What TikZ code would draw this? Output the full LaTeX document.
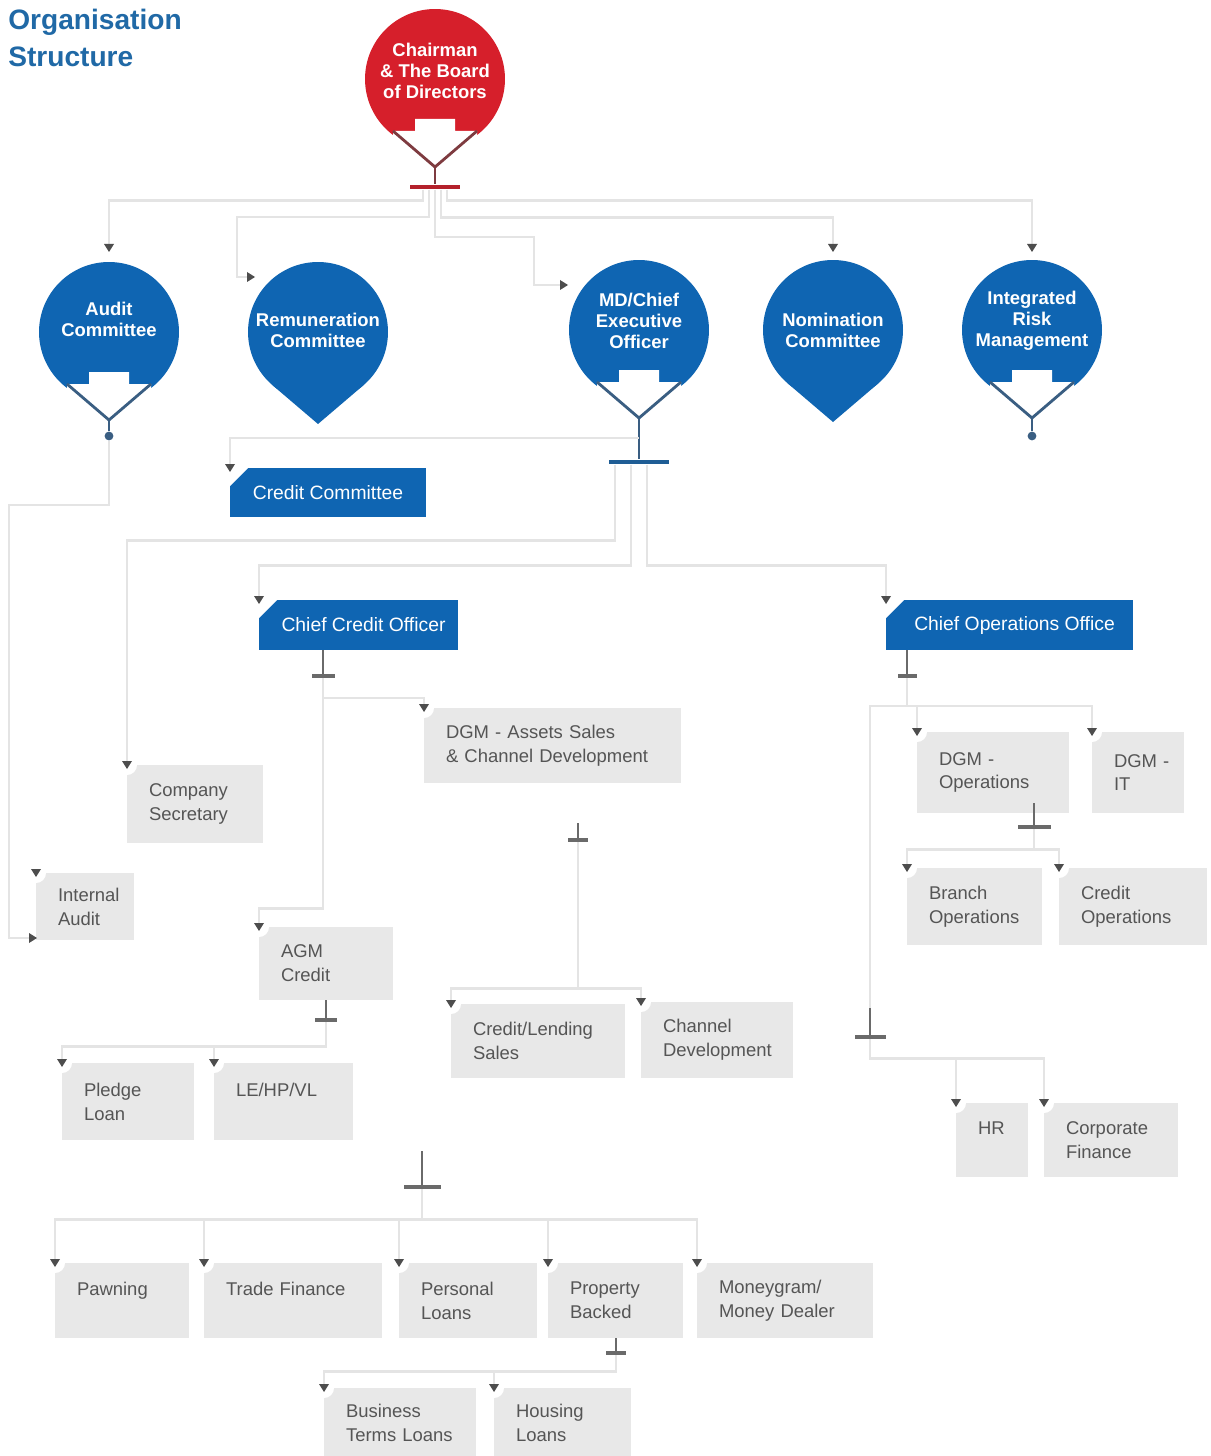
\documentclass[tikz,border=0pt]{standalone}
\usepackage{fontspec}
\setmainfont{Liberation Sans}
\usetikzlibrary{calc}

\definecolor{discblue}{HTML}{0F65B2}
\definecolor{discred}{HTML}{D61F2B}
\definecolor{veeblue}{HTML}{3A5E82}
\definecolor{veered}{HTML}{7E3B40}
\definecolor{barblue}{HTML}{1F5D95}
\definecolor{barred}{HTML}{B4212B}
\definecolor{boxgray}{HTML}{E8E8E8}
\definecolor{txtgray}{HTML}{555555}
\definecolor{linkgray}{HTML}{E4E4E4}
\definecolor{stubgray}{HTML}{6A6A6A}
\definecolor{mkgray}{HTML}{4D4D4D}
\definecolor{titleblue}{HTML}{2069A6}

\begin{document}
\begin{tikzpicture}[x=0.02cm,y=-0.02cm,
    disc/.style={circle,fill=discblue,minimum size=2.8cm,inner sep=0pt},
    disctext/.style={text=white,font=\fontsize{10.5}{12}\selectfont\bfseries,align=center,inner sep=0pt},
    tagbox/.style={rectangle,fill=discblue,text=white,font=\fontsize{11}{13}\selectfont,inner sep=0pt,outer sep=0pt},
    unitbox/.style={rectangle,fill=boxgray,text=txtgray,font=\fontsize{10.5}{13.6}\selectfont,align=left,inner xsep=0.44cm,inner ysep=0pt,outer sep=0pt,text width=#1},
    tbar/.style={rectangle,inner sep=0pt,minimum height=0.09cm},
    stub/.style={rectangle,fill=stubgray,inner sep=0pt,minimum height=0.08cm},
    stemline/.style={draw=stubgray,line width=0.8pt},
    veeline/.style={line width=1.6pt},
    link/.style={draw=linkgray,line width=1.3pt},
    pics/dmark/.style={code={\fill[mkgray] (-5,-4) -- (5,-4) -- (0,4) -- cycle;}},
    pics/rmark/.style={code={\fill[mkgray] (-4,-5) -- (-4,5) -- (4,0) -- cycle;}}]

\useasboundingbox (0,0) rectangle (1210,1456);
\fill[white] (0,0) rectangle (1210,1456);

\node[anchor=north west,inner sep=0pt,align=left,text=titleblue,font=\fontsize{16}{21}\selectfont\bfseries] (title) at (8,9) {Organisation\\Structure};

% board and committees
\node[disc,fill=discred] (board) at (435,79) {};
\node[disctext] (boardt) at (435,71) {Chairman\\\& The Board\\of Directors};
\node[disc] (audit) at (109,332) {};
\node[disctext] (auditt) at (109,319) {Audit\\Committee};
\node[disc] (rem) at (318,332) {};
\node[disctext] (remt) at (318,330) {Remuneration\\Committee};
\node[disc] (md) at (639,330) {};
\node[disctext] (mdt) at (639,321) {MD/Chief\\Executive\\Officer};
\node[disc] (nom) at (833,330) {};
\node[disctext] (nomt) at (833,330) {Nomination\\Committee};
\node[disc] (irm) at (1032,330) {};
\node[disctext] (irmt) at (1032,321) {Integrated\\Risk\\Management};

\foreach \n/\c in {board/veered, audit/veeblue, md/veeblue, irm/veeblue}{
  \fill[white] (\n.center) ++(-20,40) -- ++(40,0) -- ++(0,12) -- ++(22,0) -- ++(0,30) -- ++(-84,0) -- ++(0,-30) -- ++(22,0) -- cycle;
  \draw[veeline,\c] (\n.center) ++(-42,52) -- ++(42,36) -- ++(42,-36);
}
\foreach \n in {rem, nom}
  \fill[discblue] (\n.center) ++(-45.5,53.2) -- ++(45.5,38.8) -- ++(45.5,-38.8) -- cycle;

\node[tbar,fill=barred,minimum width=1cm] (rbar) at (435,187) {};
\draw[veeline,veered] (board.center) ++(0,88) -- (rbar);
\node[tbar,fill=barblue,minimum width=1.2cm] (mdbar) at (639,462) {};
\draw[veeline,veeblue] (md.center) ++(0,88) -- (mdbar);
\node[circle,fill=veeblue,minimum size=5pt,inner sep=0pt] (auditdot) at (109,436) {};
\draw[veeline,veeblue] (audit.center) ++(0,88) -- (auditdot);
\node[circle,fill=veeblue,minimum size=5pt,inner sep=0pt] (irmdot) at (1032,436) {};
\draw[veeline,veeblue] (irm.center) ++(0,88) -- (irmdot);

\coordinate (auditin) at (109,248);
\coordinate (remin) at (251,277);
\coordinate (mdin) at (564,285);
\coordinate (nomin) at (833,248);
\coordinate (irmin) at (1032,248);
\coordinate (iain) at (33,938);

% officers
\node[tagbox,minimum width=3.92cm,minimum height=0.98cm] (ccom) at (328,492.5) {Credit Committee};
\node[tagbox,minimum width=3.98cm,minimum height=1cm] (cco) at (358.5,625) {\hspace{0.2cm}Chief Credit Officer};
\node[tagbox,minimum width=4.94cm,minimum height=1cm] (coo) at (1009.5,625) {\hspace{0.2cm}Chief Operations Office};

% units
\node[unitbox=4.26cm,minimum height=1.5cm] (dgmA) at (552.5,745.5) {\mbox{DGM - Assets Sales}\\\& Channel Development};
\node[unitbox=1.84cm,minimum height=1.56cm] (cs) at (195,804) {Company\\Secretary};
\node[unitbox=1.08cm,minimum height=1.34cm] (ia) at (85,906.5) {Internal\\Audit};
\node[unitbox=1.8cm,minimum height=1.46cm] (agm) at (326,963.5) {AGM\\Credit};
\node[unitbox=2.16cm,minimum height=1.62cm] (dgmO) at (993,772.5) {\mbox{DGM -}\\Operations};
\node[unitbox=0.96cm,minimum height=1.62cm] (dgmIT) at (1138,772.5) {\mbox{DGM -}\\IT};
\node[unitbox=1.82cm,minimum height=1.54cm] (bo) at (974.5,906.5) {Branch\\Operations};
\node[unitbox=2.08cm,minimum height=1.54cm] (co) at (1133,906.5) {Credit\\Operations};
\node[unitbox=2.6cm,minimum height=1.48cm] (cls) at (538,1041) {Credit/Lending\\Sales};
\node[unitbox=2.16cm,minimum height=1.52cm] (chd) at (717,1040) {Channel\\Development};
\node[unitbox=1.76cm,minimum height=1.54cm] (pl) at (128,1101.5) {Pledge\\Loan};
\node[unitbox=1.9cm,minimum height=1.54cm] (le) at (283.5,1101.5) {LE/HP/VL\\\mbox{}};
\node[unitbox=0.56cm,minimum height=1.48cm] (hr) at (992,1140) {HR\\\mbox{}};
\node[unitbox=1.8cm,minimum height=1.48cm] (cf) at (1111,1140) {Corporate\\Finance};
\node[unitbox=1.8cm,minimum height=1.5cm] (paw) at (122,1300.5) {Pawning\\\mbox{}};
\node[unitbox=2.68cm,minimum height=1.5cm] (tf) at (293,1300.5) {Trade Finance\\\mbox{}};
\node[unitbox=1.88cm,minimum height=1.5cm] (perl) at (468,1300.5) {Personal\\Loans};
\node[unitbox=1.82cm,minimum height=1.5cm] (pb) at (615.5,1300.5) {Property\\Backed};
\node[unitbox=2.64cm,minimum height=1.5cm] (mg) at (785,1300.5) {Moneygram/\\Money Dealer};
\node[unitbox=2.16cm,minimum height=1.4cm] (btl) at (400,1423) {Business\\Terms Loans};
\node[unitbox=1.86cm,minimum height=1.4cm] (hl) at (562.5,1423) {Housing\\Loans};

\foreach \n in {ccom, cco, coo}
  \fill[white] (\n.north west) -- ++(18,0) -- ++(-18,18) -- cycle;
\foreach \n in {dgmA, cs, ia, agm, dgmO, dgmIT, bo, co, cls, chd, pl, le, hr, cf, paw, tf, perl, pb, mg, btl, hl}
  \fill[white] (\n.north west) circle (0.2cm);

% stubs
\node[stub,minimum width=0.46cm] (ccoT) at (323,676) {};
\draw[stemline] (ccoT) -- (ccoT |- cco.south);
\node[stub,minimum width=0.38cm] (cooT) at (907,676) {};
\draw[stemline] (cooT) -- (cooT |- coo.south);
\node[stub,minimum width=0.4cm] (dgmAT) at (578,840) {};
\draw[stemline] (dgmAT) -- ++(0,-17);
\node[stub,minimum width=0.44cm] (agmT) at (326,1020) {};
\draw[stemline] (agmT) -- (agmT |- agm.south);
\node[stub,minimum width=0.66cm] (dgmOT) at (1034,827) {};
\draw[stemline] (dgmOT) -- ++(0,-24);
\node[stub,minimum width=0.62cm] (hrT) at (870,1037) {};
\draw[stemline] (hrT) -- ++(0,-29) coordinate (hrtop);
\node[stub,minimum width=0.74cm] (botT) at (422,1187) {};
\draw[stemline] (botT) -- ++(0,-36);
\node[stub,minimum width=0.4cm] (pbT) at (616,1353) {};
\draw[stemline] (pbT) -- (pbT |- pb.south);

% connectors
\draw[link] (rbar.south) ++(-12,0) -- ++(0,11) -| (auditin);
\draw[link] (rbar.south) ++(12,0) -- ++(0,11) -| (irmin);
\draw[link] (rbar.south) ++(-6,0) |- (237,217) |- (remin);
\draw[link] (rbar.south) ++(6,0) -- ++(0,28) -| (nomin);
\draw[link] (rbar.south) |- (534,237) |- (mdin);

\draw[link] (md.center) ++(0,108) -| (ccom.north west);
\draw[link] (mdbar.south) ++(-24,0) -- ++(0,76) -| (cs.north west);
\draw[link] (mdbar.south) ++(-8,0) -- ++(0,101) -| (cco.north west);
\draw[link] (mdbar.south) ++(8,0) -- ++(0,101) -| (coo.north west);
\draw[link] (auditdot.south) |- (9,505) |- (iain);

\draw[link] (ccoT.south) -- ++(0,20) -| (dgmA.north west);
\draw[link] (ccoT.south) -- ++(0,230) -| (agm.north west);
\draw[link] (dgmAT.south) -- ++(0,146) -| (cls.north west);
\draw[link] (dgmAT.south) -- ++(0,146) -| (chd.north west);
\draw[link] (agmT.south) -- ++(0,24) -| (pl.north west);
\draw[link] (agmT.south) -- ++(0,24) -| (le.north west);

\draw[link] (cooT.south) -- ++(0,28) -| (dgmO.north west);
\draw[link] (cooT.south) -- ++(0,28) -| (dgmIT.north west);
\draw[link] (cooT.south) -- ++(0,28) -| (hrtop);
\draw[link] (dgmOT.south) -- ++(0,20) -| (bo.north west);
\draw[link] (dgmOT.south) -- ++(0,20) -| (co.north west);
\draw[link] (hrT.south) -- ++(0,19) -| (hr.north west);
\draw[link] (hrT.south) -- ++(0,19) -| (cf.north west);

\foreach \n in {paw, tf, perl, pb, mg}
  \draw[link] (botT.south) -- ++(0,30) -| (\n.north west);
\draw[link] (pbT.south) -- ++(0,16) -| (btl.north west);
\draw[link] (pbT.south) -- ++(0,16) -| (hl.north west);

% markers
\foreach \n in {ccom, cco, coo, dgmA, cs, ia, agm, dgmO, dgmIT, bo, co, cls, chd, pl, le, hr, cf, paw, tf, perl, pb, mg, btl, hl}
  \pic at (\n.north west) {dmark};
\pic at (auditin) {dmark};
\pic at (nomin) {dmark};
\pic at (irmin) {dmark};
\pic at (remin) {rmark};
\pic at (mdin) {rmark};
\pic at (iain) {rmark};

\end{tikzpicture}
\end{document}
